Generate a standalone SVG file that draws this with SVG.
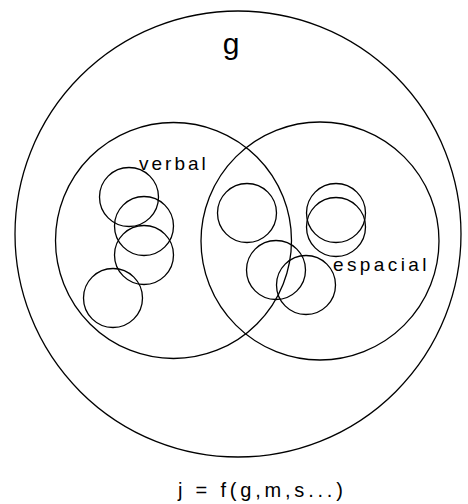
<svg xmlns="http://www.w3.org/2000/svg" width="468" height="504" viewBox="0 0 468 504">
<style>
circle{fill:none;stroke:#000;stroke-width:1.3}
text{font-family:"Liberation Sans",Arial,sans-serif;fill:#000}
.lbl{font-size:19px;letter-spacing:3px}
.sp{letter-spacing:3.4px}
.fx{font-size:20px;letter-spacing:3.8px}
</style>
<rect width="468" height="504" fill="#fff"/>
<g id="g-factor">
<circle cx="238" cy="234" r="223"/>
<text x="231" y="54" font-size="30" text-anchor="middle">g</text>
</g>
<g id="verbal">
<circle cx="173.5" cy="240.5" r="118"/>
<text class="lbl" x="139" y="170">verbal</text>
</g>
<g id="espacial">
<circle cx="320" cy="241" r="119"/>
<text class="lbl sp" x="333" y="271">espacial</text>
</g>
<g id="small-circles">
<circle cx="129" cy="197" r="29.5"/>
<circle cx="144" cy="226" r="29.5"/>
<circle cx="144" cy="255" r="29.5"/>
<circle cx="113" cy="298" r="29.5"/>
<circle cx="247" cy="213" r="29.5"/>
<circle cx="336" cy="213" r="29.5"/>
<circle cx="336" cy="227" r="29.5"/>
<circle cx="276" cy="270" r="29.5"/>
<circle cx="306" cy="285" r="29.5"/>
</g>
<g id="formula">
<text class="lbl fx" x="178" y="497">j = f(g,m,s...)</text>
</g>
</svg>
